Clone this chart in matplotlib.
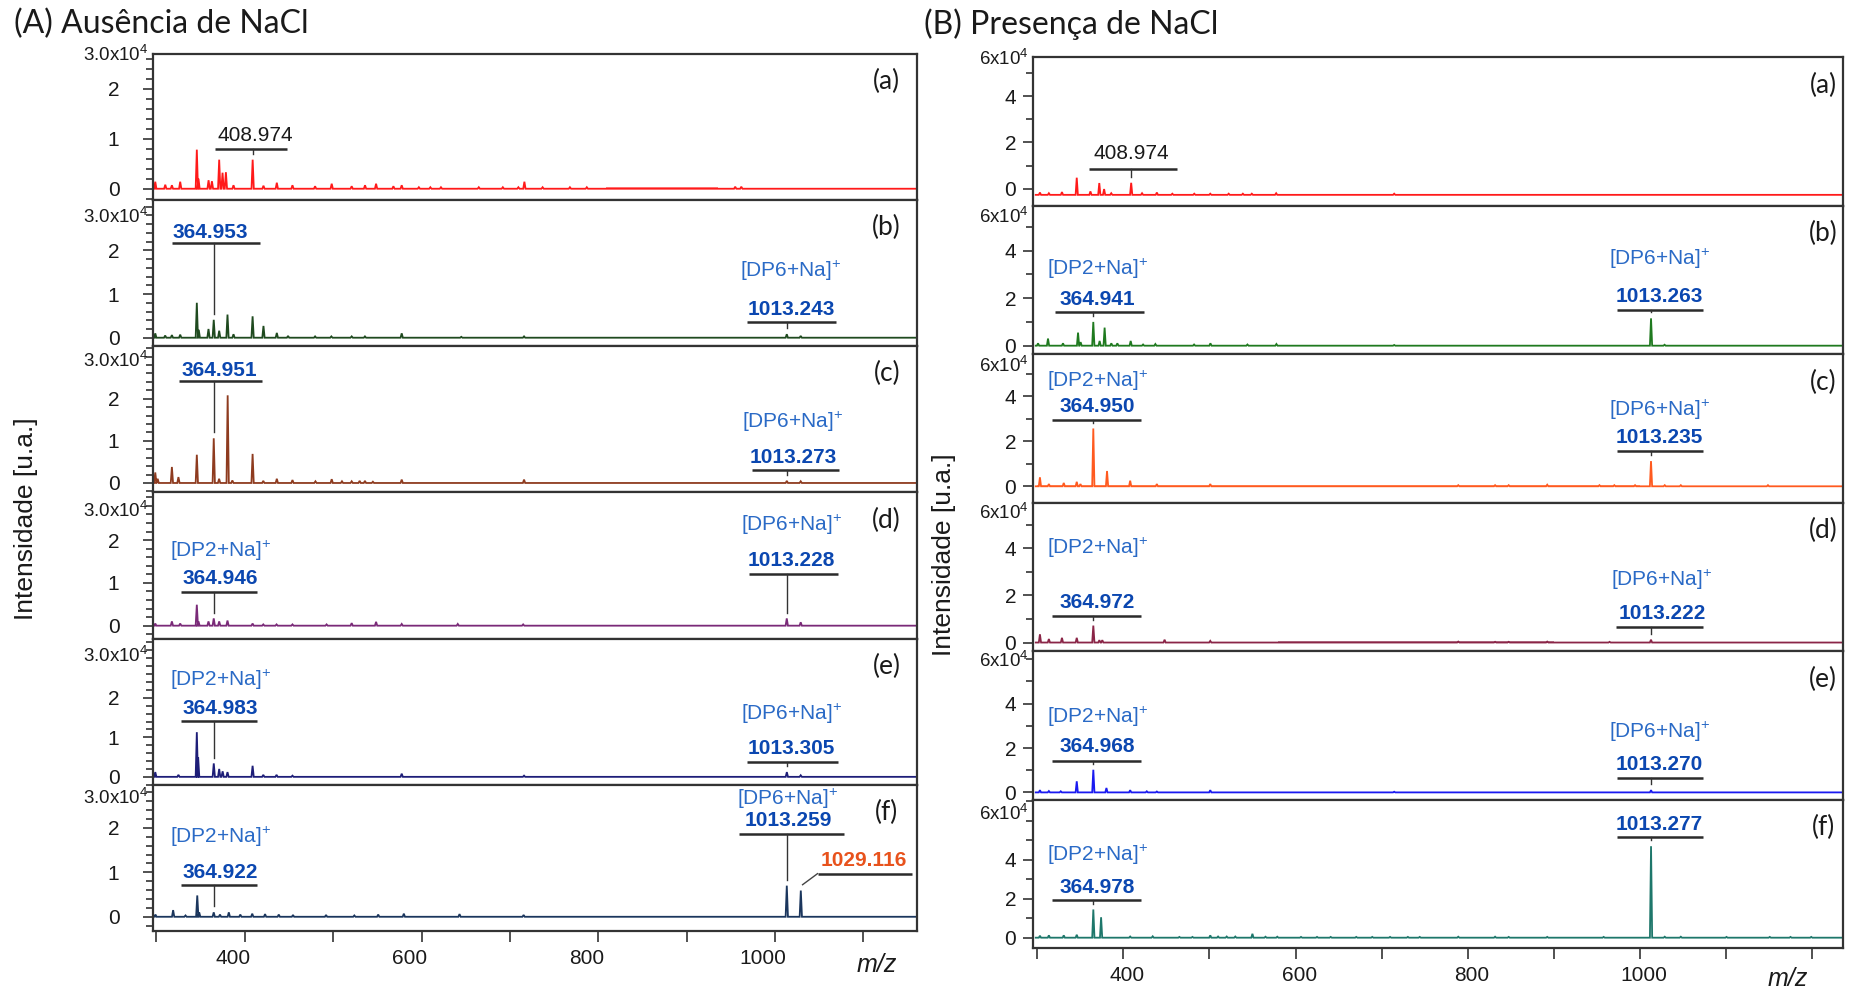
import numpy as np
import matplotlib
matplotlib.use('Agg')
import matplotlib.pyplot as plt
from matplotlib import font_manager
from matplotlib.ticker import MultipleLocator, FixedLocator, FuncFormatter
from matplotlib.transforms import ScaledTranslation

## fonts ##
have = {f.name for f in font_manager.fontManager.ttflist}
NARROW = 'Liberation Sans Narrow' if 'Liberation Sans Narrow' in have else 'Liberation Sans'
HEAD = 'Lato' if 'Lato' in have else 'DejaVu Sans'
plt.rcParams['font.family'] = ['Liberation Sans', 'DejaVu Sans']
plt.rcParams['mathtext.fontset'] = 'custom'
plt.rcParams['mathtext.rm'] = 'Liberation Sans'
plt.rcParams['mathtext.it'] = 'Liberation Sans:italic'
plt.rcParams['mathtext.bf'] = 'Liberation Sans:bold'

## (A) Ausencia de NaCl : picos (m/z) e intensidade (x10^4 u.a.) ##
A_a_mz = [298.8, 310.1, 317.6, 327.0, 345.8, 347.7, 359.1, 362.9, 371.1, 374.9, 378.7, 387.3,
          408.974, 421.2, 436.3, 454.0, 479.6, 498.4, 521.0, 536.1, 548.6, 568.2, 577.6, 597.0,
          610.0, 622.0, 664.8, 692.0, 709.6, 716.4, 737.0, 767.9, 787.0, 954.9, 961.8]
A_a_int = [0.14, 0.08, 0.07, 0.14, 0.78, 0.20, 0.17, 0.15, 0.58, 0.32, 0.33, 0.07,
           0.58, 0.06, 0.12, 0.07, 0.05, 0.10, 0.05, 0.07, 0.10, 0.05, 0.07, 0.03,
           0.03, 0.03, 0.03, 0.03, 0.03, 0.14, 0.03, 0.03, 0.03, 0.04, 0.04]

A_b_mz = [298.8, 310.0, 317.6, 327.0, 345.8, 348.0, 359.0, 364.953, 371.1, 380.5, 387.3, 408.9,
          421.2, 436.3, 449.0, 479.6, 498.0, 521.0, 536.0, 577.6, 645.0, 716.0, 1013.243, 1029.0]
A_b_int = [0.10, 0.05, 0.06, 0.07, 0.80, 0.18, 0.20, 0.41, 0.16, 0.53, 0.08, 0.49,
           0.27, 0.11, 0.04, 0.03, 0.03, 0.03, 0.03, 0.10, 0.02, 0.03, 0.08, 0.04]

A_c_mz = [298.8, 301.5, 317.6, 325.0, 345.8, 364.951, 371.0, 380.7, 386.0, 408.9, 421.0, 436.3,
          454.0, 480.0, 498.4, 510.0, 521.0, 530.0, 536.0, 545.0, 577.6, 716.0, 1013.273, 1029.0]
A_c_int = [0.25, 0.10, 0.38, 0.14, 0.67, 1.06, 0.10, 2.08, 0.06, 0.69, 0.05, 0.10,
           0.07, 0.04, 0.09, 0.04, 0.04, 0.05, 0.05, 0.03, 0.08, 0.08, 0.05, 0.04]

A_d_mz = [298.8, 317.6, 327.0, 345.8, 347.7, 359.0, 364.946, 371.1, 380.5, 408.9, 421.0, 436.0,
          454.0, 492.6, 521.0, 548.6, 577.6, 641.0, 715.0, 1013.228, 1029.0]
A_d_int = [0.05, 0.10, 0.05, 0.49, 0.10, 0.10, 0.17, 0.10, 0.12, 0.05, 0.03, 0.03,
           0.03, 0.03, 0.06, 0.09, 0.04, 0.04, 0.03, 0.17, 0.08]

A_e_mz = [298.8, 325.0, 345.8, 347.3, 364.983, 371.1, 375.0, 380.5, 408.9, 421.0, 436.0, 454.0,
          577.6, 716.0, 1013.305, 1029.0]
A_e_int = [0.12, 0.05, 1.13, 0.50, 0.34, 0.20, 0.14, 0.12, 0.28, 0.05, 0.05, 0.03,
           0.08, 0.03, 0.12, 0.04]

A_f_mz = [299.0, 319.0, 333.0, 346.3, 348.5, 364.922, 372.0, 382.0, 395.0, 408.5, 423.0, 438.5,
          454.6, 492.0, 524.0, 551.0, 580.0, 643.0, 715.5, 1013.259, 1029.116]
A_f_int = [0.05, 0.15, 0.03, 0.48, 0.10, 0.10, 0.05, 0.10, 0.05, 0.07, 0.06, 0.05,
           0.04, 0.04, 0.03, 0.05, 0.07, 0.06, 0.04, 0.70, 0.59]

## (B) Presenca de NaCl ##
B_a_mz = [302.9, 313.3, 328.5, 345.7, 361.6, 371.9, 377.5, 385.8, 408.974, 421.6, 438.8, 456.8,
          482.3, 500.9, 522.3, 538.8, 549.2, 577.5, 714.7]
B_a_int = [0.10, 0.07, 0.12, 0.74, 0.15, 0.51, 0.25, 0.07, 0.52, 0.07, 0.10, 0.05,
           0.05, 0.05, 0.05, 0.05, 0.05, 0.07, 0.05]

B_b_mz = [300.7, 312.3, 329.7, 347.2, 350.2, 364.941, 372.3, 378.1, 385.9, 392.9, 408.4, 422.8,
          437.1, 482.1, 501.1, 544.1, 577.8, 714.7, 1013.263, 1029.0]
B_b_int = [0.10, 0.30, 0.10, 0.55, 0.15, 1.00, 0.20, 0.76, 0.10, 0.10, 0.20, 0.05,
           0.07, 0.05, 0.10, 0.05, 0.07, 0.03, 1.15, 0.04]

B_c_mz = [302.9, 313.3, 330.6, 345.7, 350.0, 364.950, 380.9, 407.8, 438.8, 500.9, 789.2, 832.0,
          847.8, 892.6, 953.3, 970.6, 994.7, 1013.235, 1029.2, 1047.9, 1149.2]
B_c_int = [0.40, 0.10, 0.15, 0.20, 0.10, 2.57, 0.68, 0.25, 0.10, 0.10, 0.05, 0.05,
           0.05, 0.07, 0.05, 0.05, 0.05, 1.12, 0.05, 0.05, 0.05]

B_d_mz = [302.9, 313.3, 328.5, 345.7, 364.972, 372.0, 375.4, 447.8, 500.9, 789.2, 832.0, 847.8,
          892.6, 965.1, 1013.222]
B_d_int = [0.35, 0.15, 0.20, 0.20, 0.72, 0.10, 0.10, 0.12, 0.07, 0.04, 0.03, 0.03,
           0.04, 0.03, 0.12]

B_e_mz = [302.9, 313.3, 327.1, 345.7, 364.968, 380.2, 407.8, 427.1, 438.8, 500.9, 714.7, 1013.270]
B_e_int = [0.10, 0.06, 0.05, 0.50, 1.02, 0.20, 0.10, 0.05, 0.04, 0.10, 0.03, 0.10]

B_f_mz = [302.9, 313.3, 330.6, 345.7, 364.978, 374.0, 407.8, 434.0, 465.0, 480.2, 500.9, 510.0,
          520.0, 530.0, 549.9, 565.1, 578.8, 606.4, 625.0, 640.9, 670.6, 689.2, 709.9, 730.6,
          744.4, 789.2, 832.0, 847.8, 892.6, 958.2, 1013.277, 1029.2, 1047.9, 1101.0, 1151.3,
          1175.4, 1199.5]
B_f_int = [0.10, 0.12, 0.12, 0.15, 1.45, 1.05, 0.06, 0.07, 0.04, 0.04, 0.12, 0.06,
           0.06, 0.06, 0.20, 0.05, 0.05, 0.04, 0.04, 0.04, 0.04, 0.04, 0.04, 0.04,
           0.04, 0.05, 0.05, 0.04, 0.04, 0.04, 4.70, 0.05, 0.05, 0.04, 0.04, 0.04, 0.04]

# noisy baseline stretches: (m/z start, m/z end, height)
A_a_noise = [(809, 935, 0.04)]
B_c_noise = [(300, 1000, 0.07)]
B_d_noise = [(580, 900, 0.06)]
B_f_noise = [(300, 560, 0.04)]

panel_tags = ['(a)', '(b)', '(c)', '(d)', '(e)', '(f)']

## annotation layout: (m/z, tag, kind, text x, number y, bar y, bar x0, bar x1, tag y) ##
DP2 = r'[DP2+Na]$^{+}$'
DP6 = r'[DP6+Na]$^{+}$'
A_notes = [
    [(408.974, None, 'plain', 411.5, 1.07, 0.80, 366.0, 447.5, None)],
    [(364.953, None, 'blue', 360.7, 2.41, 2.16, 318.0, 417.0, None),
     (1013.243, DP6, 'blue', 1018.0, 0.65, 0.35, 968.0, 1069.0, 1.54)],
    [(364.951, None, 'blue', 371.4, 2.67, 2.42, 326.0, 419.5, None),
     (1013.273, DP6, 'blue', 1020.0, 0.61, 0.31, 973.6, 1072.0, 1.44)],
    [(364.946, DP2, 'blue', 372.8, 1.10, 0.79, 327.7, 414.4, 1.75),
     (1013.228, DP6, 'blue', 1018.7, 1.53, 1.20, 970.6, 1070.7, 2.36)],
    [(364.983, DP2, 'blue', 372.8, 1.74, 1.41, 327.7, 414.4, 2.44),
     (1013.305, DP6, 'blue', 1018.7, 0.71, 0.38, 968.0, 1070.7, 1.59)],
    [(364.922, DP2, 'blue', 372.8, 1.00, 0.71, 327.7, 414.4, 1.79),
     (1013.259, DP6, 'blue', 1014.5, 2.16, 1.87, 959.0, 1078.0, 2.66),
     (1029.116, None, 'orange', 1100.0, 1.26, 0.97, 1048.0, 1155.0, None)],
]
B_notes = [
    [(408.974, None, 'plain', 409.6, 1.54, 0.87, 360.3, 461.8, None)],
    [(364.941, DP2, 'blue', 369.9, 1.95, 1.40, 320.5, 423.4, 3.25),
     (1013.263, DP6, 'blue', 1023.0, 2.05, 1.50, 973.6, 1073.8, 3.65)],
    [(364.950, DP2, 'blue', 369.9, 3.55, 2.95, 316.4, 420.6, 4.70),
     (1013.235, DP6, 'blue', 1023.0, 2.15, 1.55, 973.6, 1073.8, 3.40)],
    [(364.972, DP2, 'blue', 369.9, 1.70, 1.13, 316.4, 420.6, 4.00),
     (1013.222, DP6, 'blue', 1026.0, 1.23, 0.67, 972.2, 1073.8, 2.67)],
    [(364.968, DP2, 'blue', 369.9, 2.05, 1.42, 316.4, 420.6, 3.42),
     (1013.270, DP6, 'blue', 1023.0, 1.26, 0.63, 973.6, 1073.8, 2.74)],
    [(364.978, DP2, 'blue', 369.9, 2.59, 1.94, 316.4, 420.6, 4.24),
     (1013.277, None, 'blue', 1023.0, 5.82, 5.18, 973.6, 1073.8, None)],
]

W, H = 1850.0, 992.0
HW = 1.3            # half width of a drawn peak (m/z)
SPEC_START = 298.0

NUM_STYLE = {'plain': dict(color='#1a1a1a', fontweight='normal'),
             'blue': dict(color='#0B47B0', fontweight='bold'),
             'orange': dict(color='#E8521C', fontweight='bold')}
TAG_COLOR = '#2A6AC6'

sides = [
    dict(mz=[A_a_mz, A_b_mz, A_c_mz, A_d_mz, A_e_mz, A_f_mz],
         inten=[A_a_int, A_b_int, A_c_int, A_d_int, A_e_int, A_f_int],
         noise=[A_a_noise, [], [], [], [], []],
         notes=A_notes,
         colors=['#FF1A1A', '#1F4A1F', '#8E3B1F', '#7A2A78', '#1E1E78', '#1B365D'],
         base=[0, 0, 0, 0, 0, 0],
         ylims=[(-0.22, 2.7), (-0.19, 3.16), (-0.22, 3.25), (-0.30, 3.12), (-0.20, 3.5), (-0.32, 2.97)],
         px=(152.8, 916.5), top=53.5, bottom=931.0, xlim=(296, 1160),
         major=[0, 1, 2], minor=0.2, toplab='3.0x10$^{4}$',
         topdrop=[0.01, 0.12, 0.10, 0.13, 0.12, 0.09], ypad=17, tagx=0.961,
         xlab_shift=-12, title='(A) Ausência de NaCl', title_x=14,
         ylab_xy=(26, 519), mz_xy=(877, 965)),
    dict(mz=[B_a_mz, B_b_mz, B_c_mz, B_d_mz, B_e_mz, B_f_mz],
         inten=[B_a_int, B_b_int, B_c_int, B_d_int, B_e_int, B_f_int],
         noise=[[], [], B_c_noise, B_d_noise, [], B_f_noise],
         notes=B_notes,
         colors=['#FF1A1A', '#1F7A1F', '#FF5A1F', '#8A2547', '#1A1AF0', '#1E776B'],
         base=[-0.26, 0, 0, 0, 0, 0],
         ylims=[(-0.72, 5.69), (-0.35, 5.9), (-0.72, 5.88), (-0.36, 5.95), (-0.32, 6.37), (-0.53, 7.1)],
         px=(1032.7, 1843.5), top=57.0, bottom=948.0, xlim=(294.5, 1237),
         major=[0, 2, 4], minor=1.0, toplab='6x10$^{4}$',
         topdrop=[0.01, 0.075, 0.08, 0.07, 0.07, 0.095], ypad=5, tagx=0.975,
         xlab_shift=4, title='(B) Presença de NaCl', title_x=924,
         ylab_xy=(944, 555), mz_xy=(1788, 979)),
]


def trace(mz, inten, base, x_end):
    order = np.argsort(mz)
    xs, ys = [SPEC_START], [base]
    for m, h in zip(np.asarray(mz)[order], np.asarray(inten)[order]):
        xs += [m - HW, m, m + HW]
        ys += [base, base + h, base]
    xs.append(x_end)
    ys.append(base)
    return xs, ys


fig = plt.figure(figsize=(18.5, 9.92), dpi=100)

for side in sides:
    x0, x1 = side['px']
    ph = (side['bottom'] - side['top']) / 6
    for i in range(6):
        rect = [x0 / W, 1 - (side['top'] + (i + 1) * ph) / H, (x1 - x0) / W, ph / H]
        ax = fig.add_axes(rect)
        base = side['base'][i]
        col = side['colors'][i]
        lo, hi = side['ylims'][i]

        xs, ys = trace(side['mz'][i], side['inten'][i], base, side['xlim'][1] + 20)
        ax.plot(xs, ys, color=col, lw=1.3, solid_joinstyle='miter')
        for a, b, amp in side['noise'][i]:
            ax.fill_between([a, b], base, base + amp, color=col, lw=0, alpha=0.55)

        ax.set_xlim(side['xlim'])
        ax.set_ylim(lo, hi)

        # axes frame and ticks
        for s in ax.spines.values():
            s.set_linewidth(1.6)
            s.set_color('#333333')
        ax.yaxis.set_major_locator(FixedLocator(side['major']))
        ax.yaxis.set_minor_locator(MultipleLocator(side['minor']))
        ax.yaxis.set_major_formatter(FuncFormatter(lambda v, p: '%d' % v))
        ax.tick_params(axis='y', which='both', direction='out', width=1.2, colors='#333333',
                       labelcolor='#1a1a1a', pad=side['ypad'])
        ax.tick_params(axis='y', which='major', length=7, labelsize=15)
        ax.tick_params(axis='y', which='minor', length=5)
        for lab in ax.get_yticklabels():
            lab.set_fontfamily(NARROW)

        # scale label at the top of each frame
        ty = hi - side['topdrop'][i] * (hi - lo)
        ax.annotate(side['toplab'], xy=(0, ty), xycoords=ax.get_yaxis_transform(), xytext=(-3, 0),
                    textcoords='offset points', ha='right', va='center', fontsize=13.5,
                    color='#1a1a1a')

        if i < 5:
            ax.tick_params(axis='x', which='both', bottom=False, labelbottom=False)
        else:
            ax.xaxis.set_major_locator(MultipleLocator(100))
            ax.xaxis.set_major_formatter(FuncFormatter(
                lambda v, p: '%d' % v if int(round(v)) in (400, 600, 800, 1000) else ''))
            ax.tick_params(axis='x', direction='out', length=8, width=1.2, colors='#333333',
                           labelcolor='#1a1a1a', labelsize=15, pad=5)
            shift = ScaledTranslation(side['xlab_shift'] / 100, 0, fig.dpi_scale_trans)
            for lab in ax.get_xticklabels():
                lab.set_fontfamily(NARROW)
                lab.set_transform(lab.get_transform() + shift)

        ax.text(side['tagx'], 0.81, panel_tags[i], transform=ax.transAxes, ha='center',
                va='center', fontsize=19, fontfamily=HEAD, color='#1a1a1a')

        # peak labels
        span = hi - lo
        mz_list = list(side['mz'][i])
        for (m, tag, kind, tx, ny, by, bx0, bx1, tgy) in side['notes'][i]:
            top = base + side['inten'][i][mz_list.index(m)]
            ax.text(tx, ny, '%.3f' % m, ha='center', va='center', fontsize=15, **NUM_STYLE[kind])
            ax.plot([bx0, bx1], [by, by], color='#2b2b2b', lw=1.8, solid_capstyle='butt')
            if kind == 'orange':
                ax.plot([bx0, m + 2], [by, top + 0.04 * span], color='#444444', lw=1.0)
            else:
                ax.plot([m, m], [by, top + 0.04 * span], color='#333333', lw=1.0)
            if tag is not None:
                ax.text(tx, tgy, tag, ha='center', va='center', fontsize=15, color=TAG_COLOR)

    fig.text(side['title_x'] / W, 1 - 24 / H, side['title'], fontsize=23, fontfamily=HEAD,
             ha='left', va='center', color='#1a1a1a')
    lx, ly = side['ylab_xy']
    fig.text(lx / W, 1 - ly / H, 'Intensidade [u.a.]', rotation=90, fontsize=19,
             ha='center', va='center', color='#1a1a1a')
    mx, my = side['mz_xy']
    fig.text(mx / W, 1 - my / H, 'm/z', fontsize=18, style='italic', ha='center',
             va='center', color='#1a1a1a')

fig.savefig('out.png', dpi=100)
